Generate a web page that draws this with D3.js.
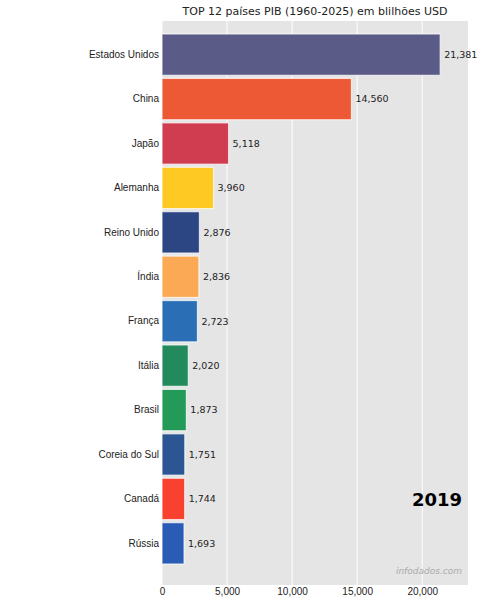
<!DOCTYPE html>
<html>
<head>
<meta charset="utf-8">
<script src="https://cdn.jsdelivr.net/npm/d3@7/dist/d3.min.js"></script>
<style>
  body { margin: 0; background: #fff; }
  svg { font-family: "DejaVu Sans", sans-serif; }
  .tick text { font-size: 10px; fill: #222; }
</style>
</head>
<body>
<div id="chart"></div>
<script>
'use strict';

// GDP 2019, billions USD
const countries = ['Estados Unidos', 'China', 'Japão', 'Alemanha', 'Reino Unido', 'Índia',
  'França', 'Itália', 'Brasil', 'Coreia do Sul', 'Canadá', 'Rússia'];
const gdp = [21381, 14560, 5118, 3960, 2876, 2836, 2723, 2020, 1873, 1751, 1744, 1693];
const colors = ['#5b5b88', '#ee5935', '#d03d50', '#fdc922', '#2c4583', '#fca956',
  '#2a6fb6', '#238a5e', '#239a58', '#2b5593', '#f8412e', '#2a5bb5'];
const xTicks = [0, 5000, 10000, 15000, 20000];
const year = '2019';

const width = 480, height = 606;
const margin = { top: 21, right: 12, bottom: 21, left: 162 };
const innerW = width - margin.left - margin.right;
const innerH = height - margin.top - margin.bottom;

const data = countries.map((c, i) => ({ name: c, value: gdp[i], color: colors[i] }));

const svg = d3.select('#chart').append('svg')
    .attr('width', width)
    .attr('height', height);

const g = svg.append('g')
    .attr('transform', `translate(${margin.left}, ${margin.top})`);

const x = d3.scaleLinear()
    .domain([0, d3.max(gdp) * 1.1])
    .range([0, innerW]);

const y = d3.scaleBand()
    .domain(countries)
    .range([13, innerH - 21])
    .paddingInner(0.07);

// background
g.append('rect')
    .attr('width', innerW)
    .attr('height', innerH)
    .attr('fill', '#e5e5e5');

// grid
g.selectAll('.grid')
  .data(xTicks)
  .join('line')
    .attr('x1', d => x(d))
    .attr('x2', d => x(d))
    .attr('y1', 0)
    .attr('y2', innerH)
    .attr('stroke', '#fff')
    .attr('stroke-width', 1);

// bars
g.selectAll('.bar')
  .data(data)
  .join('rect')
    .attr('x', 0)
    .attr('y', d => y(d.name))
    .attr('width', d => x(d.value))
    .attr('height', y.bandwidth())
    .attr('fill', d => d.color)
    .attr('stroke', '#fff')
    .attr('stroke-opacity', 0.7)
    .attr('stroke-width', 1.2);

// value labels
g.selectAll('.val')
  .data(data)
  .join('text')
    .attr('x', d => x(d.value) + 4)
    .attr('y', d => y(d.name) + y.bandwidth() / 2)
    .attr('dy', '0.35em')
    .attr('font-size', 9.5)
    .attr('fill', '#222')
    .text(d => d3.format(',')(d.value));

// axes
const yAxis = g.append('g')
    .call(d3.axisLeft(y).tickSize(0).tickPadding(3));
yAxis.select('.domain').remove();

const xAxis = g.append('g')
    .attr('transform', `translate(0, ${innerH})`)
    .call(d3.axisBottom(x).tickValues(xTicks).tickFormat(d3.format(',')).tickSize(0).tickPadding(3));
xAxis.select('.domain').remove();

// title
svg.append('text')
    .attr('x', margin.left + innerW / 2)
    .attr('y', 15)
    .attr('text-anchor', 'middle')
    .attr('font-size', 11)
    .attr('fill', '#222')
    .text('TOP 12 países PIB (1960-2025) em blilhões USD');

// year
g.append('text')
    .attr('x', innerW - 6)
    .attr('y', 485)
    .attr('text-anchor', 'end')
    .attr('font-size', 18)
    .attr('font-weight', 'bold')
    .attr('fill', '#000')
    .text(year);

// watermark
g.append('text')
    .attr('x', innerW - 6)
    .attr('y', innerH - 11)
    .attr('text-anchor', 'end')
    .attr('font-size', 9)
    .attr('font-style', 'italic')
    .attr('fill', '#aaa')
    .text('infodados.com');
</script>
</body>
</html>
